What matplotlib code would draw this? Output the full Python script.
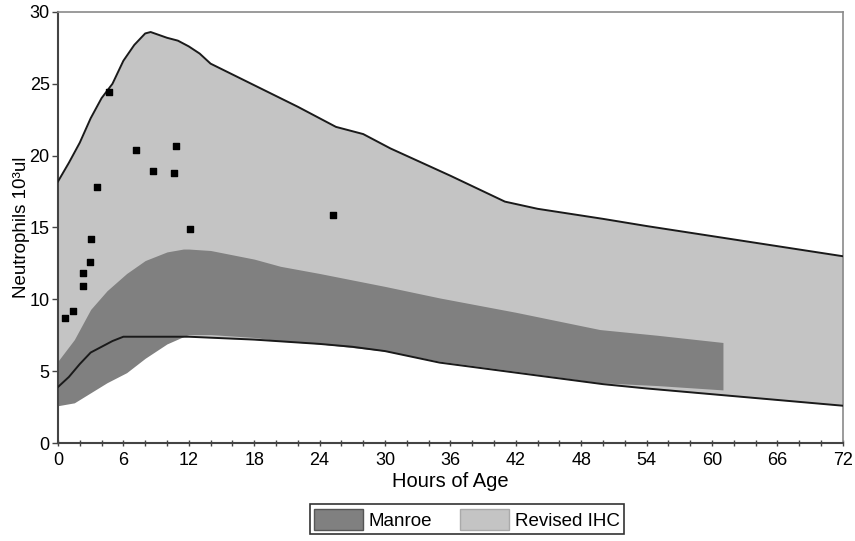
import matplotlib
matplotlib.use("Agg")
import matplotlib.pyplot as plt
from matplotlib.patches import Patch
import numpy as np

plt.rcParams['font.family'] = ['Liberation Sans', 'DejaVu Sans']

# Revised IHC envelope (upper / lower bounds, 10^3/ul)
ihc_upper_x = [0, 1, 2, 3, 4, 5, 6, 7, 8, 8.5, 10, 11, 12, 13, 14, 18, 22, 25.5, 28, 30.5, 36, 41, 44, 50, 54, 60, 66, 72]
ihc_upper_y = [18.2, 19.5, 20.9, 22.6, 24.0, 25.0, 26.6, 27.7, 28.5, 28.6, 28.2, 28.0, 27.6, 27.1, 26.4, 24.9, 23.4, 22.0, 21.5, 20.5, 18.6, 16.8, 16.3, 15.6, 15.1, 14.4, 13.7, 13.0]
ihc_lower_x = [0, 1, 2, 3, 4, 5, 6, 9, 12, 15, 18, 24, 27, 30, 35, 42, 48, 50, 54, 60, 66, 72]
ihc_lower_y = [3.9, 4.6, 5.5, 6.3, 6.7, 7.1, 7.4, 7.4, 7.4, 7.3, 7.2, 6.9, 6.7, 6.4, 5.6, 4.9, 4.3, 4.1, 3.8, 3.4, 3.0, 2.6]

# Manroe range (ends at 61 h)
manroe_x = [0, 1.5, 3, 4.5, 6.3, 8, 10, 11.5, 12, 14, 18, 20.4, 24, 30, 35, 42, 49.7, 55, 61]
manroe_hi = [5.7, 7.2, 9.3, 10.6, 11.8, 12.7, 13.3, 13.5, 13.5, 13.4, 12.8, 12.3, 11.8, 10.9, 10.1, 9.1, 7.9, 7.5, 7.0]
manroe_lo = [2.6, 2.8, 3.5, 4.2, 4.9, 5.9, 6.9, 7.4, 7.55, 7.55, 7.35, 7.1, 6.9, 6.4, 5.7, 5.0, 4.2, 4.0, 3.7]

# observed neutrophil counts
obs_hours = [0.6, 1.35, 2.3, 2.3, 2.9, 3.0, 3.55, 4.7, 7.15, 8.7, 10.6, 10.8, 12.1, 25.2]
obs_count = [8.7, 9.2, 10.9, 11.8, 12.6, 14.2, 17.8, 24.4, 20.4, 18.95, 18.8, 20.7, 14.9, 15.9]

light = '#c4c4c4'
dark = '#808080'

fig = plt.figure(figsize=(8.55, 5.41), dpi=100)
ax = fig.add_axes([0.0678, 0.181, 0.918, 0.797])

# light band: fill between the two boundary curves on a common grid
grid = np.union1d(ihc_upper_x, ihc_lower_x)
up = np.interp(grid, ihc_upper_x, ihc_upper_y)
lo = np.interp(grid, ihc_lower_x, ihc_lower_y)
ax.fill_between(grid, lo, up, color=light, lw=0, zorder=1)
ax.fill_between(manroe_x, manroe_lo, manroe_hi, color=dark, lw=0, zorder=2)
ax.plot(ihc_upper_x, ihc_upper_y, color='#1a1a1a', lw=1.4, zorder=3)
ax.plot(ihc_lower_x, ihc_lower_y, color='#1a1a1a', lw=1.4, zorder=3)
ax.scatter(obs_hours, obs_count, marker='s', s=22, color='black', zorder=4)

ax.set_xlim(0, 72)
ax.set_ylim(0, 30)
ax.set_xticks(range(0, 73, 6))
ax.set_xticks(range(0, 73, 2), minor=True)
ax.set_yticks(range(0, 31, 5))
ax.tick_params(axis='x', which='both', direction='inout', length=5, width=1, color='#444444', labelsize=13, pad=4)
ax.tick_params(axis='y', direction='out', length=4, width=1, color='#444444', labelsize=13, pad=2)

for side in ('left', 'bottom'):
    ax.spines[side].set_color('#444444')
    ax.spines[side].set_linewidth(1.5)
for side in ('top', 'right'):
    ax.spines[side].set_color('#8a8a8a')
    ax.spines[side].set_linewidth(1.2)

ax.set_xlabel('Hours of Age', fontsize=14.5, labelpad=2)
ax.set_ylabel('Neutrophils 10³ul', fontsize=13.5, labelpad=0)

handles = [Patch(facecolor=dark, edgecolor='#555555', label='Manroe'),
           Patch(facecolor=light, edgecolor='#aaaaaa', label='Revised IHC')]
leg = fig.legend(handles=handles, loc='center', bbox_to_anchor=(0.546, 0.04), ncol=2,
                 fontsize=13.5, frameon=True, fancybox=False, edgecolor='black',
                 handlelength=2.6, handleheight=1.3, handletextpad=0.3, columnspacing=1.5,
                 borderpad=0.25)
leg.get_frame().set_linewidth(1.2)

fig.savefig('out.png', dpi=100)
